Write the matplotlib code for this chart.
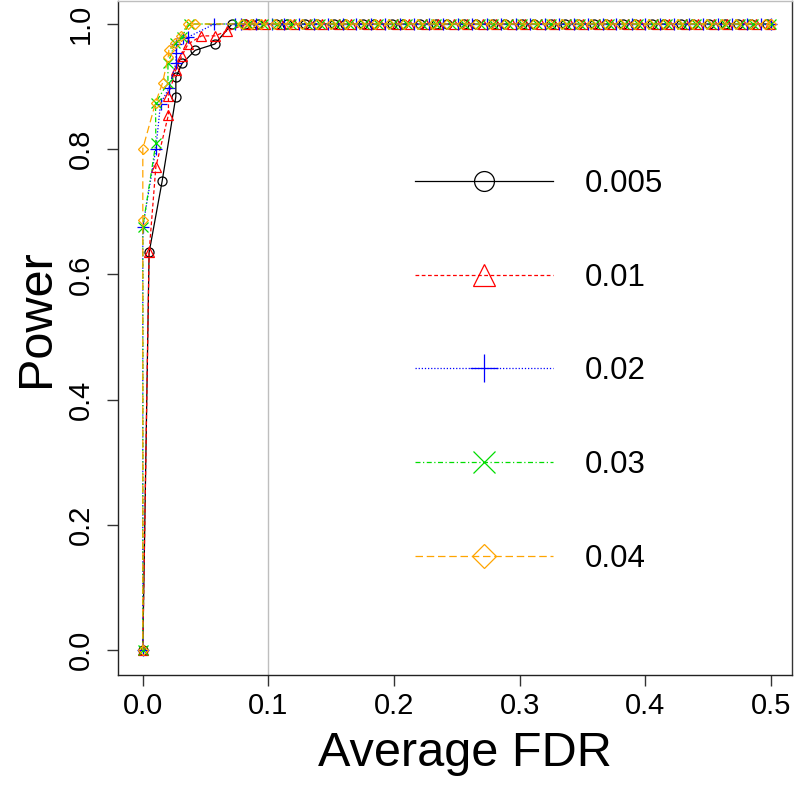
import matplotlib
matplotlib.use("Agg")
import matplotlib.pyplot as plt

plt.rcParams['font.family'] = ['Liberation Sans', 'DejaVu Sans']

# ---- data ---------------------------------------------------------------
labels = ["0.005", "0.01", "0.02", "0.03", "0.04"]

fdr_005 = [0, 0.005, 0.0154, 0.0263, 0.0263, 0.0313, 0.0417, 0.0573,
           0.071, 0.081, 0.092, 0.106, 0.115, 0.129, 0.139, 0.152, 0.161,
           0.175, 0.184, 0.198, 0.207, 0.221, 0.233, 0.242, 0.256, 0.265,
           0.279, 0.288, 0.302, 0.311, 0.325, 0.336, 0.346, 0.359, 0.369,
           0.382, 0.392, 0.405, 0.415, 0.428, 0.438, 0.451, 0.463, 0.474,
           0.484, 0.497]
pow_005 = [0, 0.635, 0.749, 0.884, 0.915, 0.937, 0.958, 0.968,
           1, 1, 1, 1, 1, 1, 1, 1, 1, 1, 1, 1, 1, 1, 1, 1, 1, 1, 1, 1, 1,
           1, 1, 1, 1, 1, 1, 1, 1, 1, 1, 1, 1, 1, 1, 1, 1, 1]

fdr_01 = [0, 0.005, 0.0104, 0.0204, 0.0204, 0.0263, 0.031, 0.036, 0.0467,
          0.0573, 0.0674, 0.0825, 0.088, 0.097, 0.110, 0.120, 0.133, 0.143,
          0.156, 0.166, 0.179, 0.189, 0.202, 0.212, 0.225, 0.235, 0.248,
          0.258, 0.271, 0.281, 0.294, 0.304, 0.317, 0.327, 0.340, 0.350,
          0.363, 0.373, 0.386, 0.396, 0.409, 0.419, 0.432, 0.442, 0.455,
          0.465, 0.478, 0.488, 0.499]
pow_01 = [0, 0.635, 0.772, 0.855, 0.885, 0.927, 0.949, 0.968, 0.981,
          0.981, 0.989, 1, 1, 1, 1, 1, 1, 1, 1, 1, 1, 1, 1, 1, 1, 1, 1,
          1, 1, 1, 1, 1, 1, 1, 1, 1, 1, 1, 1, 1, 1, 1, 1, 1, 1, 1, 1, 1, 1]

fdr_02 = [0, 0, 0.0104, 0.0141, 0.0207, 0.0263, 0.0263, 0.0263, 0.032,
          0.036, 0.057, 0.073, 0.078, 0.090, 0.103, 0.112, 0.124, 0.136,
          0.147, 0.159, 0.170, 0.182, 0.193, 0.205, 0.216, 0.228, 0.239,
          0.251, 0.262, 0.274, 0.285, 0.297, 0.308, 0.320, 0.331, 0.343,
          0.354, 0.366, 0.377, 0.389, 0.400, 0.412, 0.423, 0.435, 0.446,
          0.458, 0.469, 0.481, 0.492, 0.5]
pow_02 = [0, 0.676, 0.801, 0.873, 0.897, 0.937, 0.954, 0.968, 0.978,
          0.979, 1, 1, 1, 1, 1, 1, 1, 1, 1, 1, 1, 1, 1, 1, 1, 1, 1, 1,
          1, 1, 1, 1, 1, 1, 1, 1, 1, 1, 1, 1, 1, 1, 1, 1, 1, 1, 1, 1, 1, 1]

fdr_03 = [0, 0, 0.0104, 0.0101, 0.020, 0.020, 0.0255, 0.031, 0.037,
          0.076, 0.084, 0.096, 0.107, 0.118, 0.131, 0.141, 0.153, 0.164,
          0.176, 0.187, 0.199, 0.210, 0.222, 0.233, 0.245, 0.256, 0.268,
          0.279, 0.291, 0.302, 0.314, 0.325, 0.337, 0.348, 0.360, 0.371,
          0.383, 0.394, 0.406, 0.417, 0.429, 0.440, 0.452, 0.463, 0.475,
          0.486, 0.5]
pow_03 = [0, 0.676, 0.81, 0.874, 0.906, 0.937, 0.969, 0.98, 1,
          1, 1, 1, 1, 1, 1, 1, 1, 1, 1, 1, 1, 1, 1, 1, 1, 1, 1, 1, 1,
          1, 1, 1, 1, 1, 1, 1, 1, 1, 1, 1, 1, 1, 1, 1, 1, 1, 1]

fdr_04 = [0, 0, 0, 0.0101, 0.0157, 0.0202, 0.0207, 0.0255, 0.0303, 0.036,
          0.0414, 0.079, 0.086, 0.094, 0.105, 0.117, 0.127, 0.139, 0.150,
          0.162, 0.173, 0.185, 0.196, 0.208, 0.219, 0.231, 0.242, 0.254,
          0.265, 0.277, 0.288, 0.300, 0.311, 0.323, 0.334, 0.346, 0.357,
          0.369, 0.380, 0.392, 0.403, 0.415, 0.426, 0.438, 0.449, 0.461,
          0.472, 0.484, 0.495, 0.5]
pow_04 = [0, 0.687, 0.801, 0.874, 0.906, 0.947, 0.958, 0.970, 0.981, 1,
          1, 1, 1, 1, 1, 1, 1, 1, 1, 1, 1, 1, 1, 1, 1, 1, 1, 1, 1, 1, 1,
          1, 1, 1, 1, 1, 1, 1, 1, 1, 1, 1, 1, 1, 1, 1, 1, 1, 1, 1]

xticks = [0.0, 0.1, 0.2, 0.3, 0.4, 0.5]
yticks = [0.0, 0.2, 0.4, 0.6, 0.8, 1.0]

# ---- styles --------------------------------------------------------------
series = [
    (fdr_005, pow_005, "black", "-", "o"),
    (fdr_01, pow_01, "#FF0000", (0, (3, 2)), "^"),
    (fdr_02, pow_02, "#0000FF", (0, (1, 1.5)), "+"),
    (fdr_03, pow_03, "#00DD00", (0, (4, 2, 1, 2)), "x"),
    (fdr_04, pow_04, "#FFA500", (0, (6, 3)), "D"),
]
msizes = {"o": 6.5, "^": 7, "+": 9, "x": 7.5, "D": 5.5}

fig = plt.figure(figsize=(7.96, 7.88), dpi=100)
ax = fig.add_axes([0.148, 0.1434, 0.847, 0.8553])

# reference line at FDR = 0.1
ax.axvline(0.1, color="#BEBEBE", lw=1, zorder=0)

handles = []
for x, y, col, ls, mk in series:
    ln, = ax.plot(x, y, color=col, linestyle=ls, lw=0.9, marker=mk,
                  markersize=msizes[mk], markerfacecolor="none",
                  markeredgecolor=col, markeredgewidth=0.9)
    handles.append(ln)

ax.set_xlim(-0.0199, 0.5167)
ax.set_ylim(-0.0399, 1.0367)
ax.set_xticks(xticks)
ax.set_yticks(yticks)
ax.set_xticklabels(["%.1f" % v for v in xticks])
ax.set_yticklabels(["%.1f" % v for v in yticks], rotation=90, va="center")
ax.tick_params(axis="both", direction="out", length=8, width=1,
               labelsize=21, color="#333333")
ax.tick_params(axis="x", pad=4)
ax.tick_params(axis="y", pad=8.5)

ax.spines["top"].set_color("#BEBEBE")
ax.spines["right"].set_color("#333333")
ax.spines["left"].set_color("#222222")
ax.spines["bottom"].set_color("#222222")
for s in ax.spines.values():
    s.set_linewidth(1)

ax.set_xlabel("Average FDR", fontsize=35, labelpad=8)
ax.set_ylabel("Power", fontsize=35, labelpad=6)
ax.xaxis.label.set_x(0.515)
ax.yaxis.label.set_y(0.530)

leg = ax.legend(handles, labels, loc="upper left",
                bbox_to_anchor=(0.486, 0.8215),
                bbox_transform=fig.transFigure, frameon=False,
                fontsize=22.5, handlelength=4.43, handletextpad=1.0,
                labelspacing=2.04, markerscale=2.2)

fig.savefig("out.png", dpi=100)
